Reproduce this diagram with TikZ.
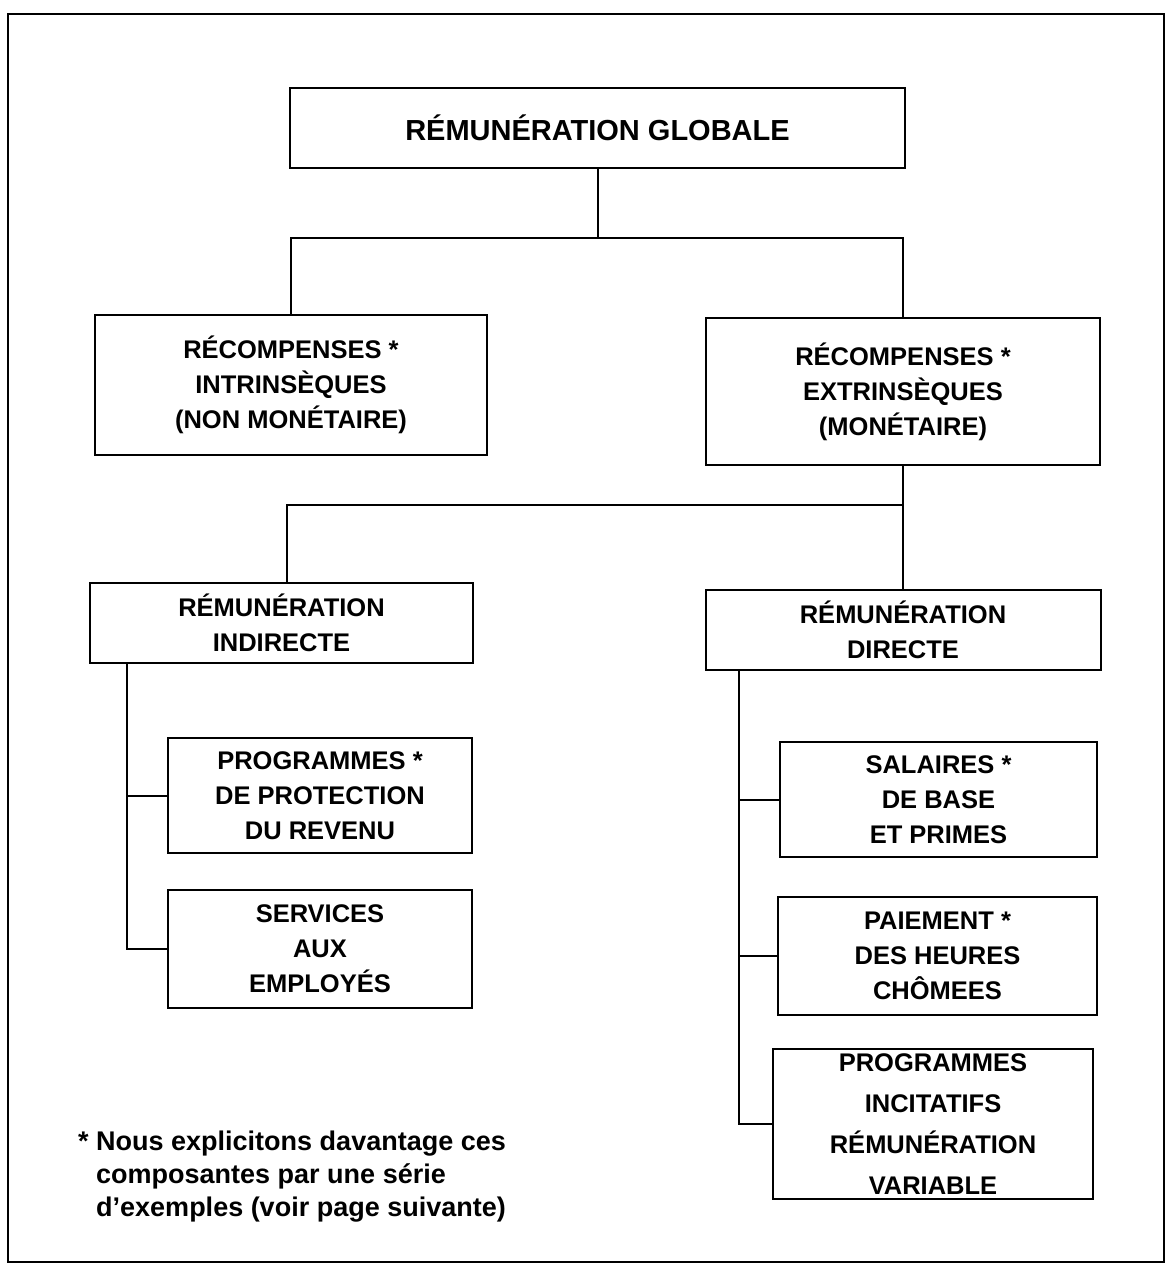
\documentclass[tikz,border=0pt]{standalone}
\usepackage{fontspec}
\setmainfont{Liberation Sans}
\newcommand\boxfnt{\bfseries\fontsize{25.5}{35}\selectfont}
\newcommand\titlefnt{\bfseries\fontsize{29}{35}\selectfont}
\newcommand\notefnt{\bfseries\fontsize{27}{33}\selectfont}
\begin{document}
\begin{tikzpicture}[x=1pt,y=-1pt,
  box/.style={draw, line width=2pt, align=center, inner sep=0pt, font=\boxfnt},
  conn/.style={line width=2pt}]
\useasboundingbox (0,0) rectangle (1170,1276);
\draw[line width=2pt] (8,14) rectangle (1164,1262);

\node[box, font=\titlefnt, minimum width=615pt, minimum height=80pt] (top) at (597.5,128) {RÉMUNÉRATION GLOBALE};

\node[box, minimum width=392pt, minimum height=140pt] (lrec) at (291,385) {RÉCOMPENSES *\\INTRINSÈQUES\\(NON MONÉTAIRE)};
\node[box, minimum width=394pt, minimum height=147pt] (rrec) at (903,391.5) {RÉCOMPENSES *\\EXTRINSÈQUES\\(MONÉTAIRE)};

\node[box, minimum width=383pt, minimum height=80pt] (ind) at (281.5,623) {RÉMUNÉRATION\\INDIRECTE};
\node[box, minimum width=395pt, minimum height=80pt] (dir) at (903,630) {RÉMUNÉRATION\\DIRECTE};

\node[box, minimum width=304pt, minimum height=115pt] (prot) at (320,795.5) {PROGRAMMES *\\DE PROTECTION\\DU REVENU};
\node[box, minimum width=304pt, minimum height=118pt] (serv) at (320,949) {SERVICES\\AUX\\EMPLOYÉS};

\node[box, minimum width=317pt, minimum height=115pt] (sal) at (938.5,799.5) {SALAIRES *\\DE BASE\\ET PRIMES};
\node[box, minimum width=319pt, minimum height=118pt] (pai) at (937.5,956) {PAIEMENT *\\DES HEURES\\CHÔMEES};
\node[box, minimum width=320pt, minimum height=150pt] (inc) at (933,1124) {PROGRAMMES\\[6pt]INCITATIFS\\[6pt]RÉMUNÉRATION\\[6pt]VARIABLE};

\coordinate (j1) at (597.5,238);
\draw[conn] (top.south) -- (j1);
\draw[conn] (lrec.north) |- (j1) -| (rrec.north);
\coordinate (j2) at (903,505);
\draw[conn] (rrec.south) -- (j2) -| ([xshift=5.5pt]ind.north);
\draw[conn] (j2) -- (dir.north);

\draw[conn] ([xshift=38pt]ind.south west) |- (serv.west);
\draw[conn] (prot.west) -| ([xshift=38pt]ind.south west);

\draw[conn] ([xshift=34.5pt]dir.south west) |- (inc.west);
\draw[conn] (sal.west) -| ([xshift=34.5pt]dir.south west);
\draw[conn] (pai.west) -| ([xshift=34.5pt]dir.south west);

\node[anchor=north west, align=left, inner sep=0pt, font=\notefnt] (note) at (78,1131)
  {* Nous explicitons davantage ces\\\hphantom{* }composantes par une série\\\hphantom{* }d’exemples (voir page suivante)};
\end{tikzpicture}
\end{document}
